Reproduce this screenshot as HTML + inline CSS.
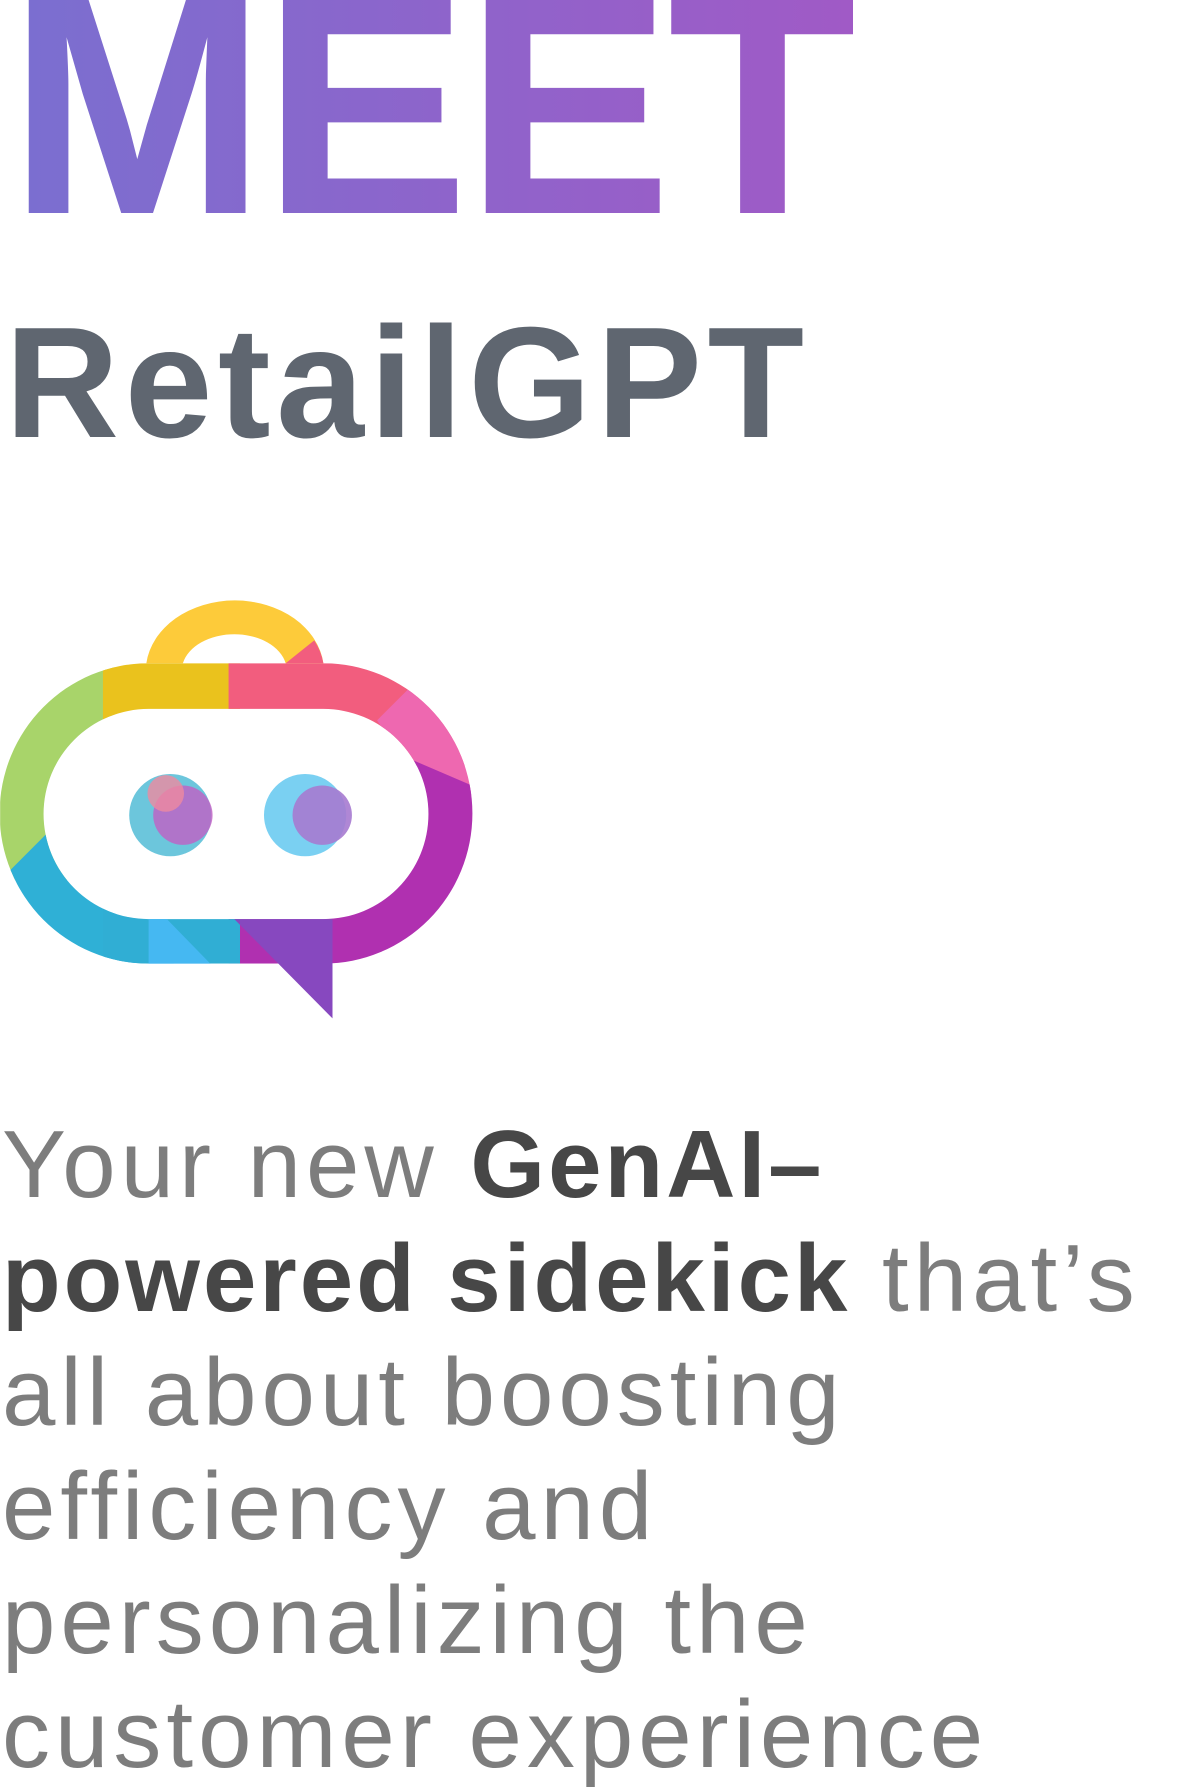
<!DOCTYPE html>
<html><head><meta charset="utf-8"><style>
html,body{margin:0;padding:0;background:#fff;width:1200px;height:1788px;overflow:hidden;position:relative}
.meet{position:absolute;left:8px;top:-49px;font:bold 310px "Liberation Sans",sans-serif;letter-spacing:-4px;background:linear-gradient(90deg,#7a6fd0,#a05ac6);-webkit-background-clip:text;background-clip:text;color:transparent;line-height:1;white-space:nowrap}
.rg{position:absolute;left:5px;top:304px;font:bold 158px "Liberation Sans",sans-serif;color:#5f6670;letter-spacing:5.5px;line-height:1;white-space:nowrap}
.body{position:absolute;left:2px;top:1108px;font:96px "Liberation Sans",sans-serif;color:#7d7d7d;line-height:114px;letter-spacing:5px;white-space:nowrap}
.body b{color:#474747;letter-spacing:3px}
</style></head><body>
<div class="meet">MEET</div>
<div class="rg">RetailGPT</div>
<svg style="position:absolute;left:0;top:589px" width="480" height="434" viewBox="0 515 420 380">
<defs>
<clipPath id="ring"><path clip-rule="evenodd" d="M130,580 H283 A130,131 0 0 1 283,843 H130 A130,131 0 0 1 130,580 Z M130,620 A92,92 0 0 0 130,804 H283 A92,92 0 0 0 283,620 Z"/></clipPath>
</defs>
<path d="M128,580 A78,62 0 0 1 283,580 H250 A46,32 0 0 0 160,580 Z" fill="#fdcb3a"/>
<path d="M250,580 L283,580 A78,62 0 0 0 275,560 Z" fill="#f25d7e"/>
<g clip-path="url(#ring)">
<rect x="0" y="570" width="100" height="200" fill="#a8d46a"/>
<rect x="90" y="570" width="120" height="60" fill="#eac21d"/>
<rect x="200" y="570" width="220" height="100" fill="#f25d7e"/>
<polygon points="360,600 420,600 420,700 350,660 330,630" fill="#ee68b0"/>
<polygon points="350,660 420,690 420,860 200,860 200,790" fill="#b030b0"/>
<polygon points="0,770 40,730 90,790 160,850 0,860" fill="#2fb0d6"/>
<rect x="90" y="790" width="120" height="70" fill="#30aed4"/>
</g>
<polygon points="130,804 146,804 184,843 130,843" fill="#45b8f2"/>
<polygon points="205,804 291,804 291,891" fill="#8748bf"/>
<circle cx="149" cy="713" r="36" fill="#6cc6dc"/>
<circle cx="160" cy="713" r="26" fill="#c25fc4" opacity=".8"/>
<circle cx="145" cy="694" r="16" fill="#ef8aa0" opacity=".8"/>
<circle cx="267" cy="713" r="36" fill="#7ad0f2"/>
<circle cx="282" cy="713" r="26" fill="#a67ad0" opacity=".9"/>
</svg>
<div class="body">Your new <b>GenAI–</b><br><b>powered sidekick</b> that’s<br>all about boosting<br>efficiency and<br>personalizing the<br>customer experience</div>
</body></html>
